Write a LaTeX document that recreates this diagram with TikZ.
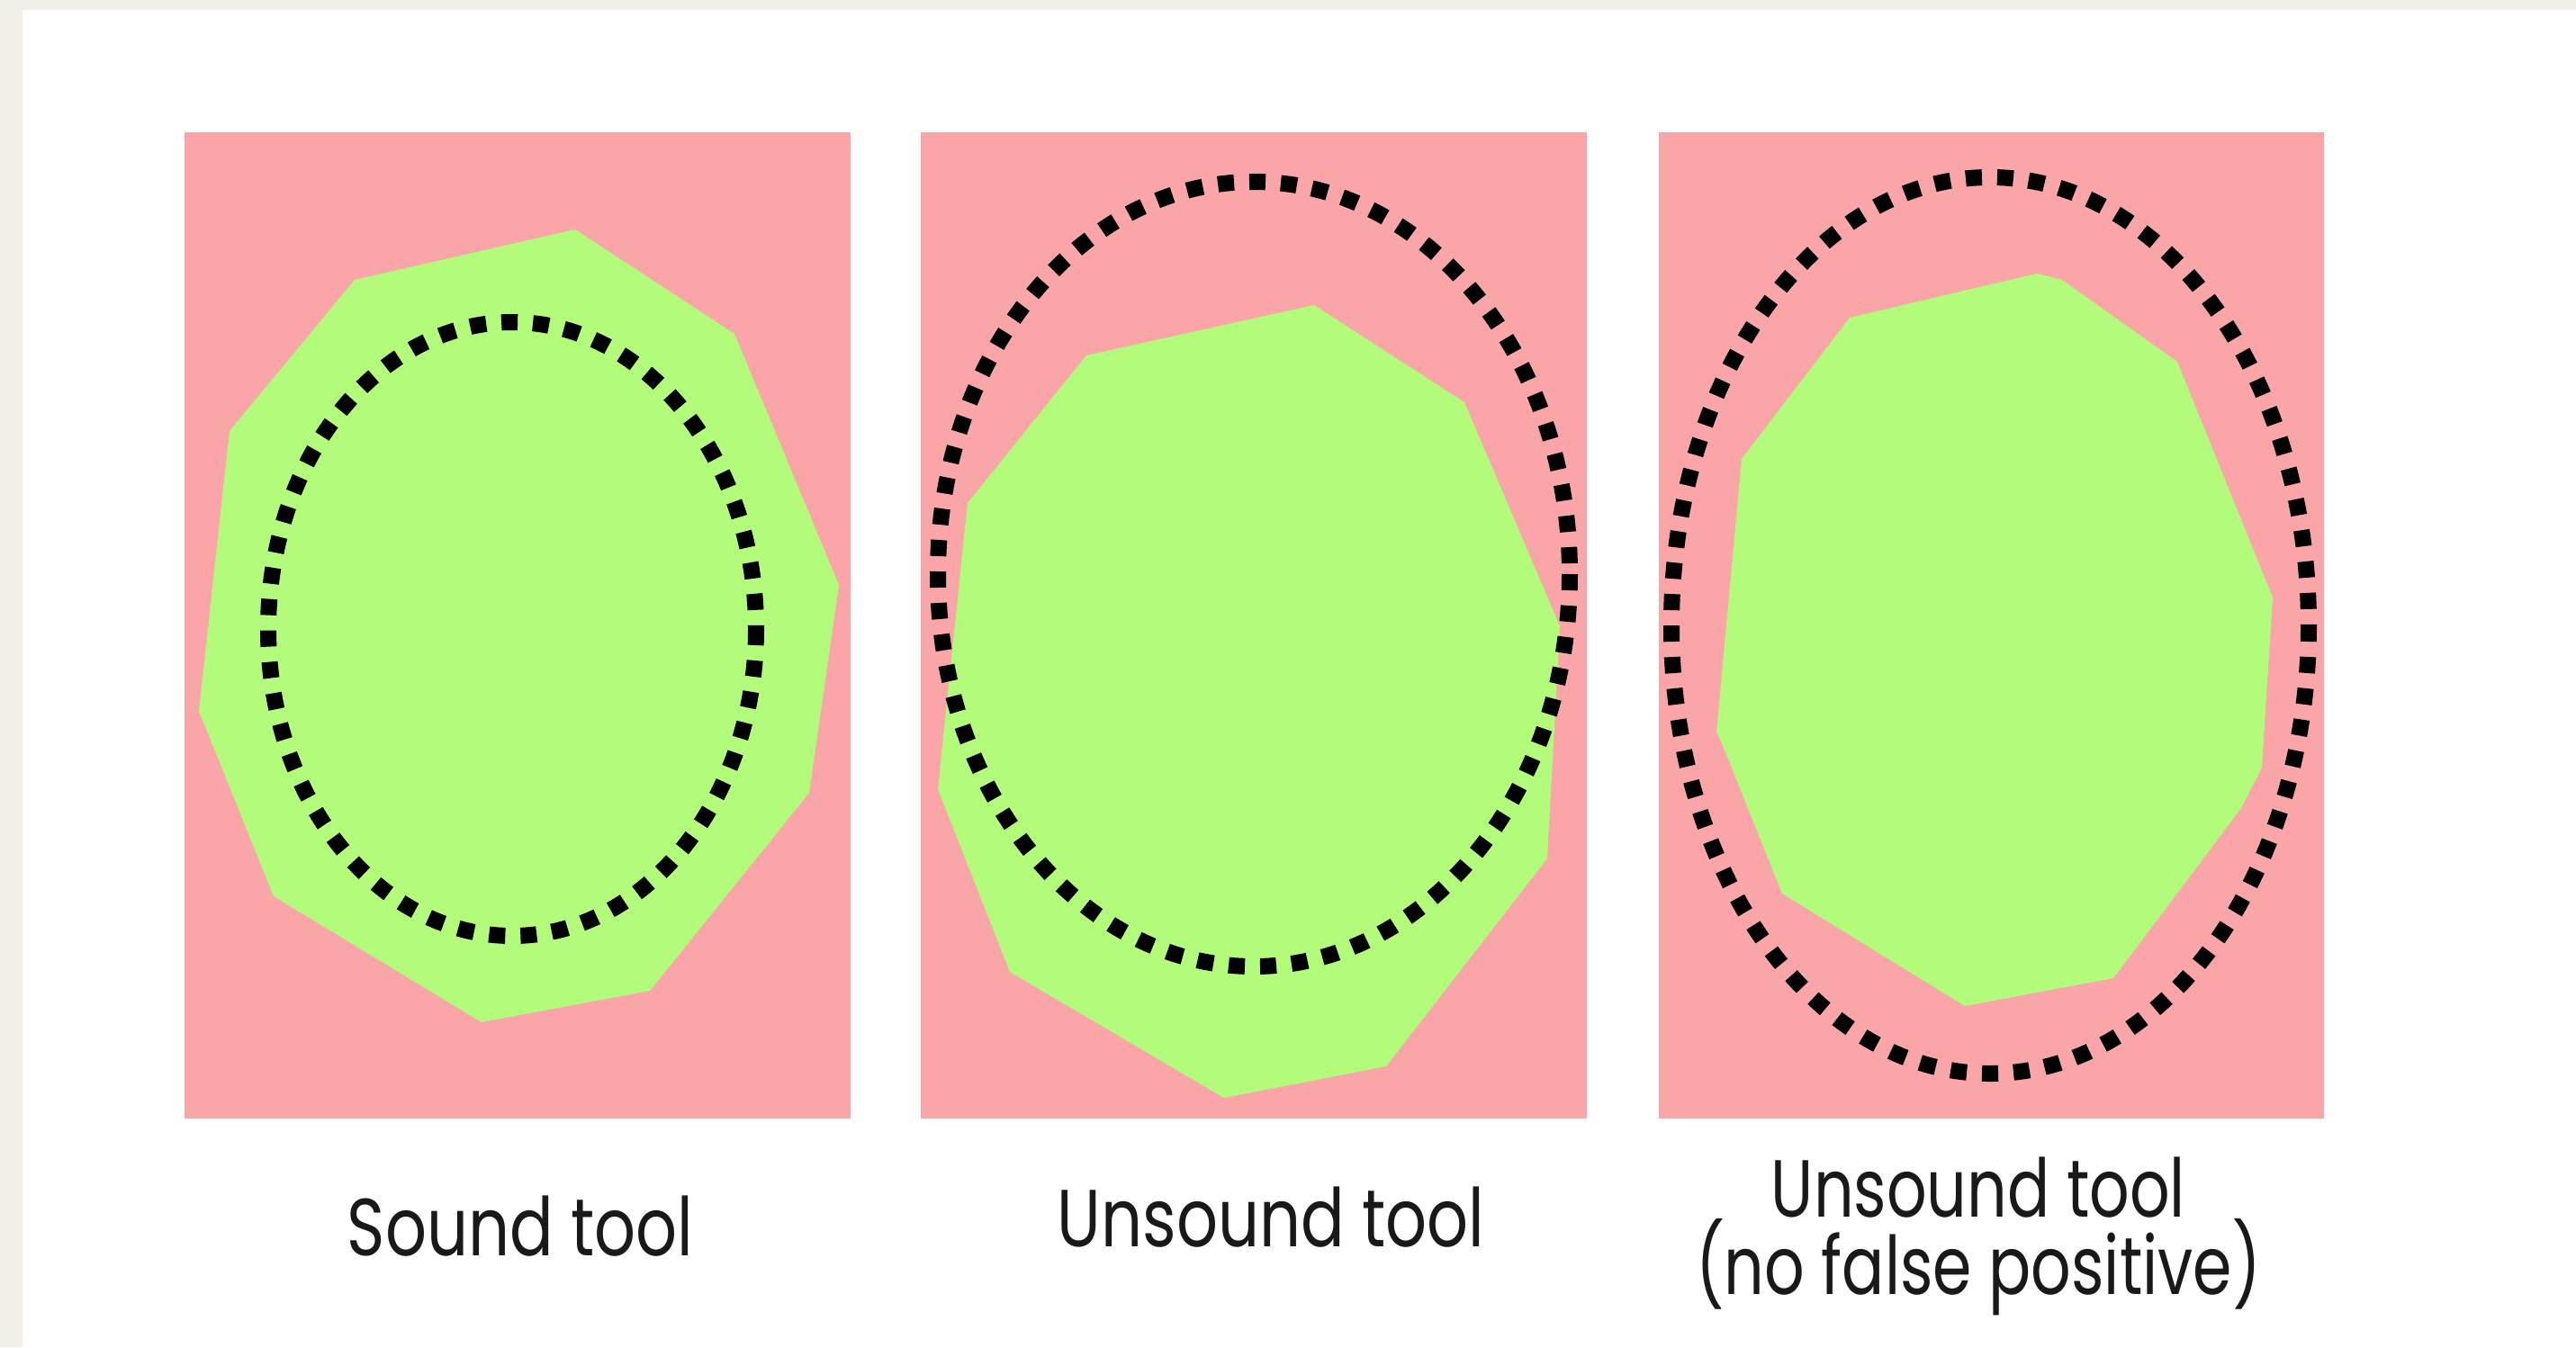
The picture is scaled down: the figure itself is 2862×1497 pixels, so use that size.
\documentclass[tikz,border=0pt]{standalone}
\usepackage{fontspec}
\setmainfont{Poppins}
\definecolor{beige}{HTML}{F3F0E9}
\definecolor{panelpink}{HTML}{FAA6A8}
\definecolor{fillgreen}{HTML}{B3FB7A}
\tikzset{
  panel/.style={fill=panelpink, draw=none},
  region/.style={fill=fillgreen, draw=none},
  dotted ellipse/.style={draw=black, line width=18pt, line cap=butt, dash pattern=on 18pt off 17pt},
  caption/.style={font=\fontsize{90}{82}\selectfont, text=black!90, inner sep=0pt, anchor=base, xscale=0.8, transform shape, align=center}
}
\begin{document}
\begin{tikzpicture}[x=1pt,y=-1pt]
\useasboundingbox (0,0) rectangle (2862,1497);
\fill[beige] (0,0) rectangle (2862,1497);
\fill[white] (25,11) rectangle (2862,1497);
% panels
\fill[panel] (205,147) rectangle (945,1243);
\fill[panel] (1023,147) rectangle (1763,1243);
\fill[panel] (1843,147) rectangle (2582,1243);
% green regions
\fill[region] (394,311) -- (639,255) -- (816,371) -- (932,650) -- (899,881) -- (722,1101) -- (535,1136) -- (304,996) -- (221,790) -- (255,479) -- cycle;
\fill[region] (1207,395) -- (1460,339) -- (1627,447) -- (1733,696) -- (1719,954) -- (1540,1185) -- (1360,1220) -- (1122,1080) -- (1042,877) -- (1075,559) -- cycle;
\fill[region] (2055,353) -- (2263,304) -- (2291,311) -- (2419,402) -- (2525,664) -- (2513,853) -- (2490,898) -- (2348,1087) -- (2183,1118) -- (1980,993) -- (1911,821) -- (1907,814) -- (1935,510) -- cycle;
% dotted ellipses
\draw[dotted ellipse] (569,699) ellipse [x radius=271, y radius=341];
\draw[dotted ellipse] (1393,638) ellipse [x radius=351, y radius=436];
\draw[dotted ellipse] (2211,695) ellipse [x radius=354, y radius=498];
% captions
\coordinate (c1) at (578,1395);
\coordinate (c2) at (1412,1385);
\coordinate (c3) at (2198,1438);
\node[caption] (t1) at (c1) {Sound tool};
\node[caption] (t2) at (c2) {Unsound tool};
\node[caption, xscale=0.97] (t3) at (c3) {Unsound tool\\(no false positive)};
\end{tikzpicture}
\end{document}
